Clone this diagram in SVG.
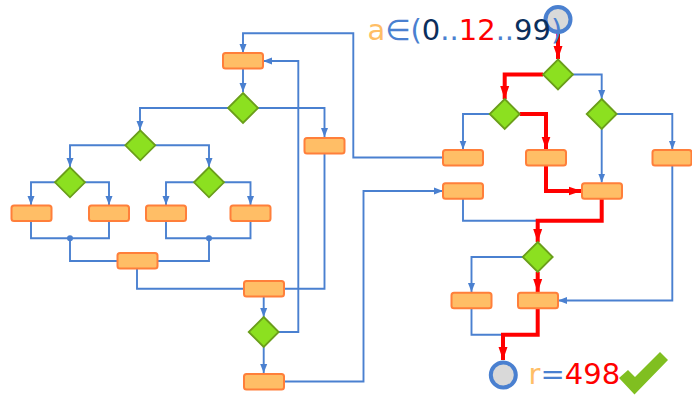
<svg xmlns="http://www.w3.org/2000/svg" width="692" height="396" viewBox="0 0 692 396">
<style>
.e{fill:none;stroke:#4a80d0;stroke-width:1.900}
.r{fill:none;stroke:#ff0000;stroke-width:4}
.b{fill:#ffbe66;stroke:#ff7f3a;stroke-width:2}
.d{fill:#8ce020;stroke:#6a9e1a;stroke-width:1.800}
.c{fill:#d9d9d9;stroke:#4a80d0;stroke-width:4}
text{font-family:"DejaVu Sans",sans-serif;font-size:29px}
.o{fill:#ffbe66}.u{fill:#4a80d0}.n{fill:#0b2f5c}.x{fill:#ff0000}
</style>
<defs>
<marker id="ab" markerUnits="userSpaceOnUse" markerWidth="10" markerHeight="8" refX="9" refY="4" orient="auto"><path d="M0 0.500L9 4L0 7.500z" fill="#4a80d0"/></marker>
<marker id="ar" markerUnits="userSpaceOnUse" markerWidth="14" markerHeight="12" refX="13" refY="6" orient="auto"><path d="M0 1.500L13 6L0 10.500z" fill="#ff0000"/></marker>
</defs>
<g id="connectors">
<path class="e" marker-end="url(#ab)" d="M243 68V92"/>
<path class="e" marker-end="url(#ab)" d="M228 108H140V130"/>
<path class="e" marker-end="url(#ab)" d="M258 108H324.500V137"/>
<path class="e" marker-end="url(#ab)" d="M125 145.300H70V167"/>
<path class="e" marker-end="url(#ab)" d="M155 145.300H209V167"/>
<path class="e" marker-end="url(#ab)" d="M55 182.300H31V205"/>
<path class="e" marker-end="url(#ab)" d="M85 182.300H109V205"/>
<path class="e" marker-end="url(#ab)" d="M194 182.300H166V205"/>
<path class="e" marker-end="url(#ab)" d="M224 182.300H250.500V205"/>
<path class="e" d="M31 221V238.300H109V221"/>
<path class="e" d="M166 221V238.300H250.500V221"/>
<path class="e" d="M70 238.300V261H117"/>
<path class="e" d="M209 238.300V261H157"/>
<path class="e" d="M137 269V288.700H244"/>
<path class="e" d="M324.500 154V288.700H284"/>
<path class="e" marker-end="url(#ab)" d="M263.700 297V317"/>
<path class="e" marker-end="url(#ab)" d="M263.700 347V373"/>
<path class="e" marker-end="url(#ab)" d="M279 332H298.300V61H263"/>
<path class="e" marker-end="url(#ab)" d="M284 381.500H363.500V191H443"/>
<path class="e" marker-end="url(#ab)" d="M443 157.500H353.300V33.300H243V53"/>
<path class="e" marker-end="url(#ab)" d="M573 74.500H601.700V99"/>
<path class="e" marker-end="url(#ab)" d="M490 114H463V149.500"/>
<path class="e" marker-end="url(#ab)" d="M601.700 129V182.500"/>
<path class="e" marker-end="url(#ab)" d="M616.700 114H672.300V149.500"/>
<path class="e" d="M463 199V220.700H537.700"/>
<path class="e" marker-end="url(#ab)" d="M672.300 165V300.500H558"/>
<path class="e" marker-end="url(#ab)" d="M523 257H471.500V292"/>
<path class="e" d="M471.500 309V334.700H503"/>
<path class="r" marker-end="url(#ar)" d="M558 33V59"/>
<path class="r" marker-end="url(#ar)" d="M543 74.500H504.700V99"/>
<path class="r" marker-end="url(#ar)" d="M519.700 114H546V149.500"/>
<path class="r" marker-end="url(#ar)" d="M546 165V191H581.500"/>
<path class="r" marker-end="url(#ar)" d="M601.700 199V220.700H537.700V242"/>
<path class="r" marker-end="url(#ar)" d="M537.700 272V292"/>
<path class="r" marker-end="url(#ar)" d="M537.700 309V334.700H503V360"/>
<circle cx="70" cy="238.300" r="3" fill="#4a80d0"/>
<circle cx="209" cy="238.300" r="3" fill="#4a80d0"/>
</g>
<g id="n1"><rect class="b" x="223" y="53" width="40" height="15.500" rx="2.500"/></g>
<g id="n2"><path class="d" d="M243 93L258 108L243 123L228 108z"/></g>
<g id="n3"><rect class="b" x="304.500" y="138" width="40" height="15.500" rx="2.500"/></g>
<g id="n4"><path class="d" d="M140.300 130.300L155.300 145.300L140.300 160.300L125.300 145.300z"/></g>
<g id="n5"><path class="d" d="M70 167.300L85 182.300L70 197.300L55 182.300z"/></g>
<g id="n6"><path class="d" d="M209 167.300L224 182.300L209 197.300L194 182.300z"/></g>
<g id="n7"><rect class="b" x="11.500" y="205.500" width="40" height="15.500" rx="2.500"/></g>
<g id="n8"><rect class="b" x="89" y="205.500" width="40" height="15.500" rx="2.500"/></g>
<g id="n9"><rect class="b" x="146" y="205.500" width="40" height="15.500" rx="2.500"/></g>
<g id="n10"><rect class="b" x="230.500" y="205.500" width="40" height="15.500" rx="2.500"/></g>
<g id="n11"><rect class="b" x="117.500" y="253" width="40" height="15.500" rx="2.500"/></g>
<g id="n12"><rect class="b" x="244" y="281" width="40" height="15.500" rx="2.500"/></g>
<g id="n13"><path class="d" d="M263.700 317L278.700 332L263.700 347L248.700 332z"/></g>
<g id="n14"><rect class="b" x="244" y="374" width="40" height="15.500" rx="2.500"/></g>
<g id="n15"><circle class="c" cx="558" cy="19.500" r="12.500"/></g>
<g id="n16"><path class="d" d="M558 59.500L573 74.500L558 89.500L543 74.500z"/></g>
<g id="n17"><path class="d" d="M504.700 99L519.700 114L504.700 129L489.700 114z"/></g>
<g id="n18"><path class="d" d="M601.700 99L616.700 114L601.700 129L586.700 114z"/></g>
<g id="n19"><rect class="b" x="443" y="150" width="40" height="15.500" rx="2.500"/></g>
<g id="n20"><rect class="b" x="526" y="150" width="40" height="15.500" rx="2.500"/></g>
<g id="n21"><rect class="b" x="652.500" y="150" width="39" height="15.500" rx="2.500"/></g>
<g id="n22"><rect class="b" x="443" y="183.300" width="40" height="15.500" rx="2.500"/></g>
<g id="n23"><rect class="b" x="582" y="183.300" width="40" height="15.500" rx="2.500"/></g>
<g id="n24"><path class="d" d="M537.700 242L552.700 257L537.700 272L522.700 257z"/></g>
<g id="n25"><rect class="b" x="451.500" y="292.800" width="40" height="15.500" rx="2.500"/></g>
<g id="n26"><rect class="b" x="518" y="292.800" width="40" height="15.500" rx="2.500"/></g>
<g id="n27"><circle class="c" cx="503.300" cy="375" r="12.500"/></g>
<g id="check"><path fill="#80bf20" d="M619 378L628 370L635 377L660 352L668 360L634.500 394.500z"/></g>
<text x="367.500" y="39.500"><tspan class="o">a</tspan><tspan class="u">∈(</tspan><tspan class="n">0</tspan><tspan class="u">..</tspan><tspan class="x">12</tspan><tspan class="u">..</tspan><tspan class="n">99</tspan><tspan class="u">)</tspan></text>
<text x="528.500" y="383.500"><tspan class="o">r</tspan><tspan class="u">=</tspan><tspan class="x">498</tspan></text>
</svg>
